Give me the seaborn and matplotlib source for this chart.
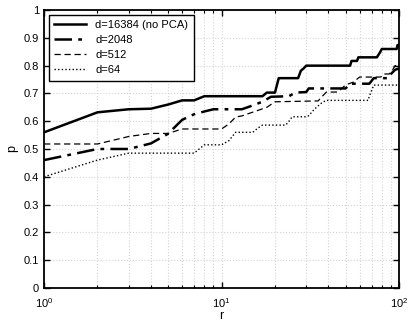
import numpy as np
import pandas as pd
import seaborn as sns
import matplotlib
matplotlib.use("Agg")
import matplotlib.pyplot as plt
from matplotlib.ticker import LogLocator, MultipleLocator, FuncFormatter, NullFormatter

# polyline vertices (r, p)
r_16384 = [1, 2, 3, 4, 5, 6, 7, 8, 17, 18, 20, 21, 27, 28, 29, 30, 53, 54, 58, 59, 75, 78, 80, 97, 98, 100]
p_16384 = [.56, .632, .643, .645, .66, .675, .675, .69, .69, .703, .703, .755, .755, .782, .79, .80,
           .80, .817, .817, .83, .83, .847, .86, .86, .874, .874]

r_2048 = [1, 2, 3, 4, 5, 6, 7, 8, 9, 13, 14, 17, 19, 24, 26, 30, 31, 50, 53, 68, 70, 72, 88, 90, 95, 100]
p_2048 = [.46, .50, .50, .52, .555, .605, .625, .635, .643, .643, .65, .67, .688, .69, .703, .705,
          .718, .718, .735, .735, .745, .755, .755, .77, .785, .79]

r_512 = [1, 2, 3, 4, 5, 6, 10, 11, 12, 13, 18, 20, 35, 37, 39, 45, 48, 50, 55, 60, 79, 82, 88, 92, 95, 100]
p_512 = [.518, .518, .545, .556, .556, .572, .572, .59, .615, .619, .65, .67, .673, .69, .705, .705,
         .72, .731, .74, .759, .759, .77, .77, .785, .80, .80]

r_64 = [1, 2, 3, 7, 8, 10, 11, 12, 15, 16, 17, 23, 24, 25, 30, 31, 33, 35, 37, 39, 67, 68, 70, 72, 100]
p_64 = [.40, .46, .485, .485, .515, .515, .53, .56, .56, .575, .586, .586, .60, .616, .616, .62,
        .64, .655, .668, .675, .675, .69, .71, .73, .73]

labels = ["d=16384 (no PCA)", "d=2048", "d=512", "d=64"]
series = [(r_16384, p_16384), (r_2048, p_2048), (r_512, p_512), (r_64, p_64)]
styles = [dict(linestyle="-", linewidth=1.8),
          dict(linestyle=(0, (7, 2.5, 1.5, 2.5)), linewidth=1.8),
          dict(linestyle=(0, (5, 3)), linewidth=0.9),
          dict(linestyle=(0, (1, 1.6)), linewidth=1.0)]

plt.rcParams['font.family'] = ['Liberation Sans', 'DejaVu Sans']
plt.rcParams['mathtext.fontset'] = 'custom'
plt.rcParams['mathtext.rm'] = 'Liberation Sans'

fig = plt.figure(figsize=(4.08, 3.26), dpi=100)
ax = fig.add_axes([0.108, 0.117, 0.870, 0.852])

for (rr, pp), lab, st in zip(series, labels, styles):
    df = pd.DataFrame({'r': rr, 'p': pp})
    sns.lineplot(data=df, x='r', y='p', ax=ax, color='black', label=lab, **st)

ax.set_xscale('log')
ax.set_xlim(1, 100)
ax.set_ylim(0, 1)
ax.yaxis.set_major_locator(MultipleLocator(0.1))
ax.yaxis.set_major_formatter(FuncFormatter(lambda v, pos: f"{v:g}"))
ax.xaxis.set_major_locator(LogLocator(base=10))
ax.xaxis.set_minor_locator(LogLocator(base=10, subs=np.arange(2, 10)))
ax.xaxis.set_minor_formatter(NullFormatter())

ax.grid(True, which='major', color='#d4d4d4', linestyle=':', linewidth=0.8)
ax.grid(True, which='minor', axis='x', color='#d4d4d4', linestyle=':', linewidth=0.8)
ax.set_axisbelow(True)

ax.tick_params(which='both', direction='in', top=True, right=True, labelsize=8, color='black')
ax.tick_params(which='major', length=4, width=1)
ax.tick_params(axis='x', which='major', pad=6)
ax.tick_params(which='minor', length=2, width=0.8)
for s in ax.spines.values():
    s.set_linewidth(1.3)
    s.set_color('black')

ax.set_xlabel('r', fontsize=9, labelpad=0)
ax.set_ylabel('p', fontsize=9, labelpad=4)

leg = ax.legend(loc='upper left', fontsize=8, fancybox=False, framealpha=1,
                edgecolor='black', handlelength=2.9, borderpad=0.5, labelspacing=0.45,
                borderaxespad=0.4)
leg.get_frame().set_linewidth(1.0)

fig.savefig('out.png', dpi=100)
